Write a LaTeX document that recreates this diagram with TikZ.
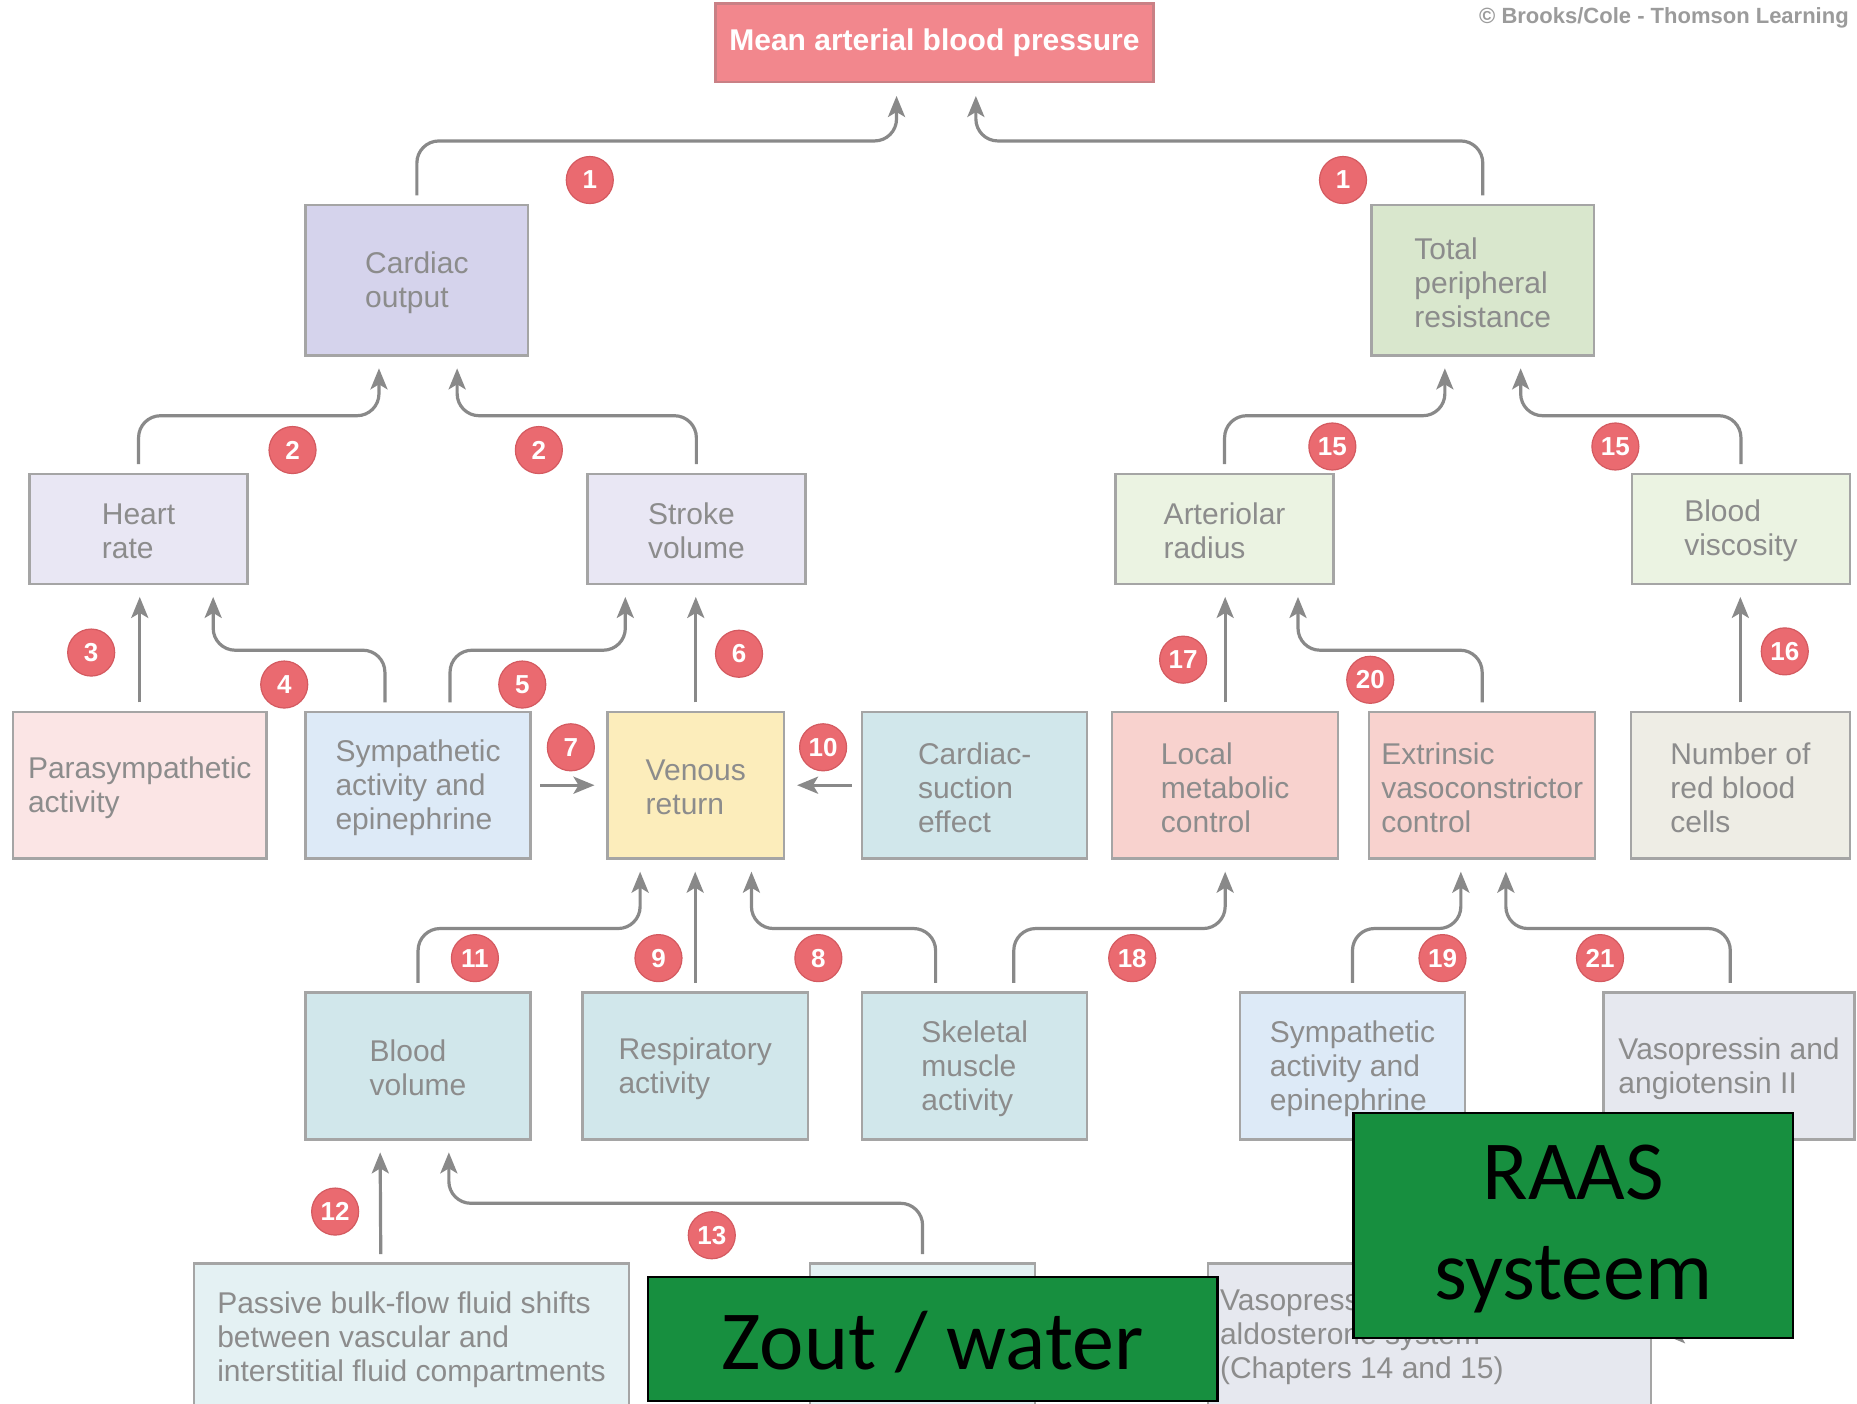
\documentclass[tikz,border=0pt]{standalone}
\usepackage{fontspec}
\setmainfont{Liberation Sans}
\newfontfamily\greenfont{Carlito}
\usetikzlibrary{arrows.meta,calc,fit}

\definecolor{edge}{HTML}{A5A5A5}
\definecolor{txt}{HTML}{8C8C8C}
\definecolor{wire}{HTML}{898989}
\definecolor{mapfill}{HTML}{F2878D}
\definecolor{mapedge}{HTML}{C98085}
\definecolor{cofill}{HTML}{D5D3EC}
\definecolor{hrfill}{HTML}{E9E7F4}
\definecolor{tprfill}{HTML}{D9E7CD}
\definecolor{arfill}{HTML}{EBF3E2}
\definecolor{psfill}{HTML}{FBE5E5}
\definecolor{symfill}{HTML}{DDEAF7}
\definecolor{vrfill}{HTML}{FCEDBB}
\definecolor{tealfill}{HTML}{D1E7EB}
\definecolor{salfill}{HTML}{F8D2CE}
\definecolor{rbcfill}{HTML}{EEEDE5}
\definecolor{grayfill}{HTML}{E6E8EF}
\definecolor{palefill}{HTML}{E4F1F3}
\definecolor{badgefill}{HTML}{EA6A70}
\definecolor{badgeedge}{HTML}{D45A60}
\definecolor{greenfill}{HTML}{178F3F}
\definecolor{copyc}{HTML}{9B9B9B}

\tikzset{
  box/.style={draw=edge, line width=2.4pt, inner sep=0pt},
  boxtxt/.style={inner sep=0pt, text=txt, align=left,
    font=\fontsize{30}{34}\selectfont},
  badge/.style={circle, fill=badgefill, draw=badgeedge, line width=1.2pt,
    minimum size=47pt, inner sep=0pt, text=white,
    font=\bfseries\fontsize{26}{26}\selectfont},
  conn/.style={draw=wire, line width=3.2pt, rounded corners=22pt,
    -{Stealth[length=21pt, width=17pt, inset=5pt]}},
  greenbox/.style={fill=greenfill, draw=black, line width=2.4pt, inner sep=0pt},
  greentxt/.style={inner sep=0pt, text=black, align=center,
    font=\greenfont\fontsize{84}{100}\selectfont},
}

% a framed box spanning two corners, with its text block set inside
\newcommand{\flowbox}[6][]{%
  \node[box, fill=#3, fit={#4 #5}] (#2) {};
  \node[boxtxt, #1] (#2-t) at ($(#2.center)+(0,2)$) {#6};
}

\begin{document}
\begin{tikzpicture}[x=1.1843pt, y=-1.1843pt]
\useasboundingbox (0,0) rectangle (1568,1185);
\fill[white] (0,0) rectangle (1568,1185);

% credit line
\node[text=copyc, font=\bfseries\fontsize{22}{22}\selectfont] (credit) at (1405,15)
  {\textcopyright{} Brooks/Cole - Thomson Learning};

% top level
\node[box, fill=mapfill, draw=mapedge, fit={(604,3) (974,69)}] (mabp) {};
\node[boxtxt, text=white, font=\bfseries\fontsize{30}{34}\selectfont] (mabp-t)
  at ($(mabp.center)+(0,0)$) {Mean arterial blood pressure};

% second level
\flowbox{co}{cofill}{(258,173)}{(446,300)}{Cardiac\\output}
\flowbox{tpr}{tprfill}{(1158,173)}{(1346,300)}{Total\\peripheral\\resistance}

% third level
\flowbox{hr}{hrfill}{(25,400)}{(209,493)}{Heart\\rate}
\flowbox{sv}{hrfill}{(496,400)}{(680,493)}{Stroke\\volume}
\flowbox{ar}{arfill}{(942,400)}{(1126,493)}{Arteriolar\\radius}
\flowbox{bvis}{arfill}{(1378,400)}{(1562,493)}{Blood\\viscosity}

% fourth level
\flowbox{ps}{psfill}{(11,601)}{(225,725)}{Parasympathetic\\activity}
\flowbox{sym}{symfill}{(258,601)}{(448,725)}{Sympathetic\\activity and\\epinephrine}
\flowbox{vr}{vrfill}{(513,601)}{(662,725)}{Venous\\return}
\flowbox{cs}{tealfill}{(728,601)}{(918,725)}{Cardiac-\\suction\\effect}
\flowbox{lm}{salfill}{(939,601)}{(1130,725)}{Local\\metabolic\\control}
\flowbox{ex}{salfill}{(1156,601)}{(1347,725)}{Extrinsic\\vasoconstrictor\\control}
\flowbox{rbc}{rbcfill}{(1377,601)}{(1562,725)}{Number of\\red blood\\cells}

% fifth level
\flowbox{bvol}{tealfill}{(258,838)}{(448,962)}{Blood\\volume}
\flowbox{ra}{tealfill}{(492,838)}{(682,962)}{Respiratory\\activity}
\flowbox{sk}{tealfill}{(728,838)}{(918,962)}{Skeletal\\muscle\\activity}
\flowbox{sym2}{symfill}{(1047,838)}{(1237,962)}{Sympathetic\\activity and\\epinephrine}
\flowbox{va}{grayfill}{(1354,838)}{(1566,962)}{Vasopressin and\\angiotensin II}

% sixth level
\flowbox{pb}{palefill}{(164,1067)}{(531,1191)}%
  {Passive bulk-flow fluid shifts\\between vascular and\\interstitial fluid compartments}
\node[box, fill=palefill, fit={(684,1067) (874,1191)}] (mid) {};
\node[box, fill=grayfill, fit={(1020,1067) (1394,1191)}] (ren) {};
\node[boxtxt, anchor=west] (ren-t) at (1030,1129)
  {Vasopressin, renin-angiotensin-\\aldosterone system\\(Chapters 14 and 15)};

% connectors into mean arterial blood pressure
\draw[conn] ($(co.north)+(0,-7)$) |- ($(mabp.south)+(-32,49)$) -- ($(mabp.south)+(-32,11)$);
\draw[conn] ($(tpr.north)+(0,-7)$) |- ($(mabp.south)+(35,49)$) -- ($(mabp.south)+(35,11)$);

% into cardiac output and total peripheral resistance
\draw[conn] ($(hr.north)+(0,-7)$) |- ($(co.south)+(-32,50)$) -- ($(co.south)+(-32,10)$);
\draw[conn] ($(sv.north)+(0,-7)$) |- ($(co.south)+(34,50)$) -- ($(co.south)+(34,10)$);
\draw[conn] ($(ar.north)+(0,-7)$) |- ($(tpr.south)+(-32,50)$) -- ($(tpr.south)+(-32,10)$);
\draw[conn] ($(bvis.north)+(0,-7)$) |- ($(tpr.south)+(32,50)$) -- ($(tpr.south)+(32,10)$);

% into heart rate, stroke volume, arteriolar radius, blood viscosity
\draw[conn] ($(ps.north)+(0,-7)$) -- ($(ps.north |- hr.south)+(0,10)$);
\draw[conn] ($(sym.north)+(-28,-7)$) |- ($(hr.south)+(63,55)$) -- ($(hr.south)+(63,10)$);
\draw[conn] ($(sym.north)+(27,-7)$) |- ($(sv.south)+(-60,55)$) -- ($(sv.south)+(-60,10)$);
\draw[conn] ($(vr.north)+(0,-7)$) -- ($(vr.north |- sv.south)+(0,10)$);
\draw[conn] ($(lm.north)+(0,-7)$) -- ($(lm.north |- ar.south)+(0,10)$);
\draw[conn] ($(ex.north)+(0,-7)$) |- ($(ar.south)+(62,55)$) -- ($(ar.south)+(62,10)$);
\draw[conn] ($(rbc.north)+(0,-7)$) -- ($(rbc.north |- bvis.south)+(0,10)$);

% into venous return from the sides
\draw[conn] ($(sym.east)+(7,0)$) -- ($(vr.west)+(-10,0)$);
\draw[conn] ($(cs.west)+(-8,0)$) -- ($(vr.east)+(10,0)$);

% into venous return, local metabolic and extrinsic control from below
\draw[conn] ($(bvol.north)+(0,-7)$) |- ($(vr.south)+(-47,58)$) -- ($(vr.south)+(-47,10)$);
\draw[conn] ($(ra.north)+(0,-7)$) -- ($(ra.north |- vr.south)+(0,10)$);
\draw[conn] ($(sk.north)+(-33,-7)$) |- ($(vr.south)+(47,58)$) -- ($(vr.south)+(47,10)$);
\draw[conn] ($(sk.north)+(33,-7)$) |- ($(lm.south)+(0,58)$) -- ($(lm.south)+(0,10)$);
\draw[conn] ($(sym2.north)+(0,-7)$) |- ($(ex.south)+(-18,58)$) -- ($(ex.south)+(-18,10)$);
\draw[conn] ($(va.north)+(1,-7)$) |- ($(ex.south)+(20,58)$) -- ($(ex.south)+(20,10)$);

% into blood volume
\draw[conn] ($(pb.north)+(-26,-7)$) -- ($(bvol.south)+(-32,10)$);
\draw[conn] ($(mid.north)+(0,-7)$) |- ($(bvol.south)+(26,53)$) -- ($(bvol.south)+(26,10)$);

% into the hormone system box from the right
\coordinate (renin) at ($(ren.east)+(70,-2)$);
\draw[conn] (renin) -- ($(ren.east)+(10,-2)$);

% numbered badges
\node[badge] (n1a) at (498,152) {1};
\node[badge] (n1b) at (1134,152) {1};
\node[badge] (n2a) at (247,380) {2};
\node[badge] (n2b) at (455,380) {2};
\node[badge] (n15a) at (1125,377) {15};
\node[badge] (n15b) at (1364,377) {15};
\node[badge] (n3) at (77,551) {3};
\node[badge] (n4) at (240,578) {4};
\node[badge] (n5) at (441,578) {5};
\node[badge] (n6) at (624,552) {6};
\node[badge] (n7) at (482,631) {7};
\node[badge] (n10) at (695,631) {10};
\node[badge] (n17) at (999,557) {17};
\node[badge] (n20) at (1157,574) {20};
\node[badge] (n16) at (1507,550) {16};
\node[badge] (n11) at (401,809) {11};
\node[badge] (n9) at (556,809) {9};
\node[badge] (n8) at (691,809) {8};
\node[badge] (n18) at (956,809) {18};
\node[badge] (n19) at (1218,809) {19};
\node[badge] (n21) at (1351,809) {21};
\node[badge] (n12) at (283,1023) {12};
\node[badge] (n13) at (601,1043) {13};

% green labels laid over the lower part
\node[greenbox, fit={(547,1078) (1028,1183)}] (zout) {};
\node[greentxt] (zout-t) at ($(zout.center)+(0,3)$) {Zout / water};
\node[greenbox, fit={(1143,940) (1514,1130)}] (raas) {};
\node[greentxt] (raas-t) at ($(raas.center)+(0,3)$) {RAAS\\systeem};
\end{tikzpicture}
\end{document}
